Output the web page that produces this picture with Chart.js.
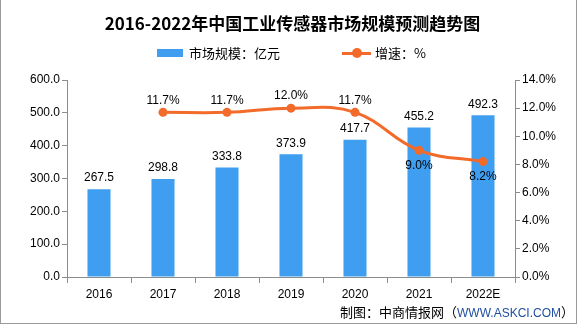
<!DOCTYPE html>
<html>
<head>
<meta charset="utf-8">
<script src="https://cdn.jsdelivr.net/npm/chart.js@4/dist/chart.umd.min.js"></script>
<style>
  html, body { margin: 0; padding: 0; background: #fff; }
  #wrap { position: relative; width: 585px; height: 327px; overflow: hidden; font-family: "Noto Sans CJK SC", sans-serif; }
  #frame { position: absolute; left: 0; top: -2px; width: 577px; height: 326px; border: 1px solid #9a9a9a; box-sizing: border-box; pointer-events: none; }
  .lg { position: absolute; font-size: 13px; line-height: 14px; color: #000; white-space: nowrap; }
  #lgBarBox { position: absolute; left: 157px; top: 49px; width: 26px; height: 8px; background: #409EF0; }
  #lgLine { position: absolute; left: 342px; top: 52px; width: 29px; height: 3px; background: #F26B2B; }
  #lgDot { position: absolute; left: 352px; top: 48px; width: 10px; height: 10px; border-radius: 50%; background: #F26B2B; }
  #footer { position: absolute; left: 340px; top: 304px; font-size: 13px; line-height: 16px; white-space: nowrap; color: #000; }
  #footer .url { color: #1F4FA0; font-family: "Liberation Sans", Arial, sans-serif; font-size: 12px; }
</style>
</head>
<body>
<div id="wrap">
  <canvas id="c" width="585" height="327"></canvas>
  <div id="lgBarBox"></div>
  <div class="lg" style="left:189px; top:46px;">市场规模：亿元</div>
  <div id="lgLine"></div>
  <div id="lgDot"></div>
  <div class="lg" style="left:375px; top:46px;">增速：%</div>
  <div id="footer">制图：中商情报网（<span class="url">WWW.ASKCI.COM</span>）</div>
  <div id="frame"></div>
</div>
<script>
const categories = ["2016", "2017", "2018", "2019", "2020", "2021", "2022E"];
const marketSize = [267.5, 298.8, 333.8, 373.9, 417.7, 455.2, 492.3];
const growthRate = [null, 11.7, 11.7, 12.0, 11.7, 9.0, 8.2];
const leftTicks = [0, 100, 200, 300, 400, 500, 600];
const rightTicks = [0, 2, 4, 6, 8, 10, 12, 14];
const titleText = "2016-2022年中国工业传感器市场规模预测趋势图";

const BAR_COLOR = "#409EF0";
const LINE_COLOR = "#F26B2B";
const AXIS_COLOR = "#8c8c8c";
const NUM_FONT = { family: "'Liberation Sans', Arial, sans-serif", size: 12 };
// growth label placement: -1 above the point, 1 below
const growthLabelSide = [-1, -1, -1, -1, -1, 1, 1];

const labelPlugin = {
  id: "valueLabels",
  afterDatasetsDraw(chart) {
    const ctx = chart.ctx;
    ctx.save();
    ctx.font = "12px 'Liberation Sans', Arial, sans-serif";
    ctx.fillStyle = "#000";
    ctx.textAlign = "center";
    ctx.textBaseline = "middle";
    const barMeta = chart.getDatasetMeta(0);
    barMeta.data.forEach((el, i) => {
      ctx.fillText(marketSize[i].toFixed(1), el.x, el.y - 11);
    });
    const lineMeta = chart.getDatasetMeta(1);
    lineMeta.data.forEach((el, i) => {
      const v = growthRate[i];
      if (v === null || v === undefined) return;
      const side = growthLabelSide[i];
      ctx.fillText(v.toFixed(1) + "%", el.x, el.y + (side < 0 ? -12 : 15));
    });
    ctx.restore();
  }
};

new Chart(document.getElementById("c"), {
  data: {
    labels: categories,
    datasets: [
      {
        type: "bar",
        label: "市场规模：亿元",
        data: marketSize,
        backgroundColor: BAR_COLOR,
        yAxisID: "y",
        categoryPercentage: 1.0,
        barPercentage: 0.36,
        order: 2
      },
      {
        type: "line",
        label: "增速：%",
        data: growthRate,
        borderColor: LINE_COLOR,
        backgroundColor: LINE_COLOR,
        borderWidth: 3,
        pointRadius: 4.5,
        pointBackgroundColor: LINE_COLOR,
        pointBorderWidth: 0,
        tension: 0.4,
        yAxisID: "y1",
        order: 1
      }
    ]
  },
  options: {
    responsive: false,
    animation: false,
    devicePixelRatio: 1,
    layout: { padding: { left: 0, right: 0, top: 0, bottom: 0 } },
    plugins: {
      legend: { display: false },
      tooltip: { enabled: false },
      title: {
        display: true,
        text: titleText,
        color: "#000",
        font: { family: "'Noto Sans CJK SC', sans-serif", size: 17, weight: "bold", lineHeight: 1.2 },
        padding: { top: 13, bottom: 46.6 }
      }
    },
    scales: {
      x: {
        offset: true,
        grid: { display: true, drawOnChartArea: false, drawTicks: true, tickLength: 6, color: AXIS_COLOR, offset: true },
        border: { display: true, color: AXIS_COLOR, width: 1 },
        ticks: { color: "#000", font: NUM_FONT, padding: 4, maxRotation: 0 },
        afterFit(s) { s.height = 50; }
      },
      y: {
        position: "left",
        min: 0, max: 600,
        afterBuildTicks(s) { s.ticks = leftTicks.map(v => ({ value: v })); },
        grid: { display: true, drawOnChartArea: false, drawTicks: true, tickLength: 5, color: AXIS_COLOR },
        border: { display: true, color: AXIS_COLOR, width: 1 },
        ticks: { color: "#000", font: NUM_FONT, padding: 2, callback: v => Number(v).toFixed(1) },
        afterFit(s) { s.width = 67; }
      },
      y1: {
        position: "right",
        min: 0, max: 14,
        afterBuildTicks(s) { s.ticks = rightTicks.map(v => ({ value: v })); },
        grid: { display: true, drawOnChartArea: false, drawTicks: true, tickLength: 5, color: AXIS_COLOR },
        border: { display: true, color: AXIS_COLOR, width: 1 },
        ticks: { color: "#000", font: NUM_FONT, padding: 2, callback: v => Number(v).toFixed(1) + "%" },
        afterFit(s) { s.width = 70; }
      }
    }
  },
  plugins: [labelPlugin]
});
</script>
</body>
</html>
